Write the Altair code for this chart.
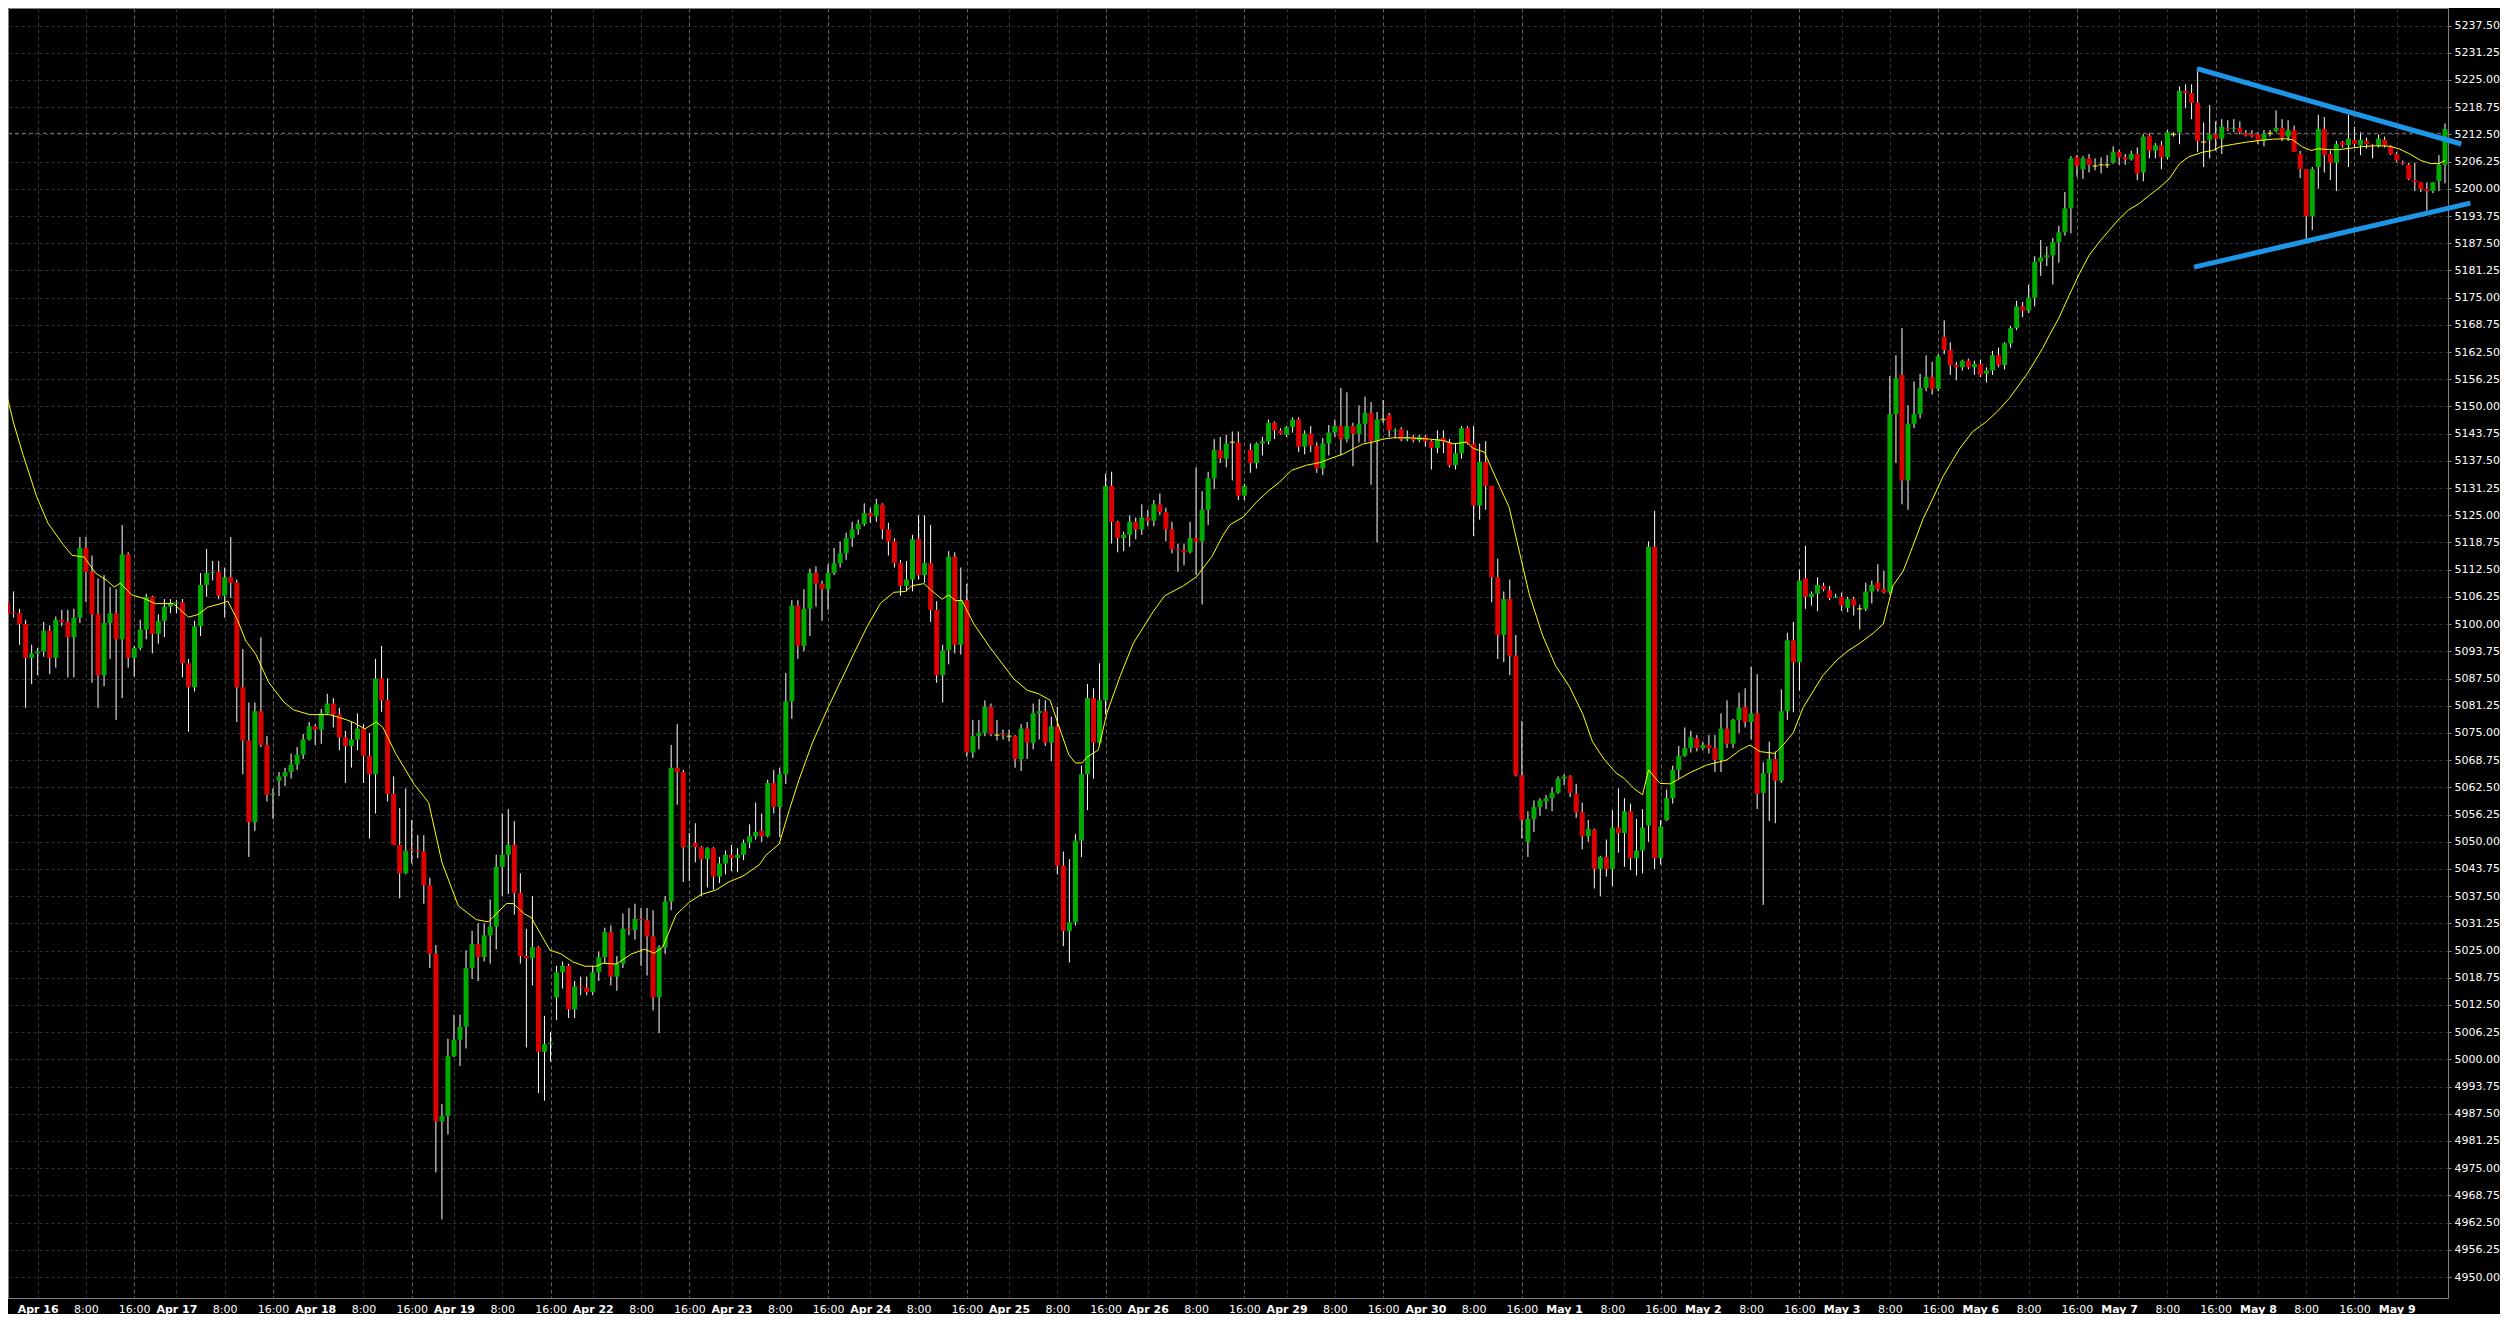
import altair as alt
import pandas as pd

# ---------------- data (hourly bars, index 0..405) -------------
opens = [
    5102, 5105, 5102.75, 5102.5, 5100, 5092.25, 5093.25, 5093.75, 5098.5, 5092.25,
    5101, 5100.5, 5097, 5101.5, 5117.5, 5112, 5102.25, 5088.25, 5100.25, 5102.5,
    5096.5, 5116, 5092.25, 5094.5, 5098.75, 5106.25, 5097.75, 5100.75, 5104, 5104.75,
    5105, 5091, 5085.5, 5099.5, 5109, 5111.75, 5112, 5106.5, 5110.75, 5109.5,
    5085.5, 5073.25, 5054.5, 5080, 5072.25, 5060.75, 5064, 5065, 5066, 5067.75,
    5070, 5073.5, 5076.5, 5075.75, 5079.5, 5081.75, 5079.25, 5074, 5072, 5073.5,
    5076, 5069.75, 5065.5, 5087.5, 5082.5, 5061, 5049.25, 5042.75, 5048.25, 5048,
    5047.75, 5040, 5024.25, 4985.75, 4987, 5000.75, 5004.5, 5007.5, 5021, 5026.5,
    5023.5, 5028.5, 5030.5, 5044.25, 5047, 5049.25, 5038.25, 5023.75, 5023.25, 5025.75,
    5001.75, 5003.5, 5014.25, 5020, 5021.5, 5011.5, 5016.75, 5016.5, 5015.5, 5020,
    5023.5, 5029.25, 5019, 5022, 5030, 5029.75, 5032.25, 5032, 5028.25, 5014.25,
    5025.75, 5036.25, 5067, 5066, 5048.75, 5049.75, 5048.75, 5046, 5048.5, 5042,
    5045, 5047, 5046.25, 5047, 5049.75, 5051.25, 5052.5, 5051.25, 5063.5, 5058,
    5065.5, 5082.25, 5104.25, 5095, 5103.5, 5111.75, 5109.25, 5108, 5111.75, 5114,
    5116.25, 5119.75, 5121.75, 5123, 5125.5, 5124.75, 5127.5, 5121.75, 5119, 5114,
    5108.75, 5110.25, 5119.5, 5111.25, 5114, 5103.25, 5088.25, 5094, 5115.5, 5095.25,
    5105.5, 5070.5, 5074.25, 5075, 5081, 5074.5, 5074.75, 5074.25, 5074.25, 5069,
    5076, 5072.75, 5079.5, 5080, 5072.75, 5076.5, 5044.5, 5029.5, 5031.5, 5050.25,
    5065.5, 5083, 5072.75, 5082.5, 5131.75, 5123.5, 5119.75, 5120.5, 5123.5, 5121.75,
    5124.5, 5123.75, 5127.5, 5125.75, 5121.75, 5117.25, 5117, 5116.5, 5119.75, 5119,
    5126.25, 5133.5, 5140, 5138, 5141.75, 5141.75, 5129.5, 5140, 5137, 5141.5,
    5142, 5146.25, 5144.5, 5143.5, 5145.25, 5147, 5140.75, 5143.75, 5141, 5135.75,
    5141.5, 5144, 5145.5, 5142.5, 5145.5, 5143.75, 5146, 5148.5, 5142, 5147,
    5148, 5144.25, 5144.75, 5142.5, 5143, 5142.25, 5143, 5142, 5140.5, 5142.75,
    5141.75, 5136.5, 5139.25, 5145, 5141.5, 5127.25, 5137.25, 5131.75, 5110.75, 5097.5,
    5105.75, 5092.75, 5065.25, 5050, 5055.25, 5058, 5059.25, 5060, 5061.25, 5064.5,
    5065, 5061, 5056.75, 5051.25, 5052.75, 5043.75, 5046.5, 5043.75, 5053.25, 5052,
    5057, 5046.25, 5048, 5053.75, 5117.75, 5046.25, 5055, 5060, 5066.5, 5069.75,
    5071.5, 5073.75, 5071.5, 5072.25, 5071.5, 5068.75, 5076, 5072.5, 5078, 5081,
    5077.5, 5079.5, 5061.25, 5065.75, 5069, 5064, 5080, 5096.25, 5091.25, 5110.5,
    5106.25, 5107, 5108.75, 5107.75, 5106, 5106.25, 5103.75, 5105.75, 5103.5, 5103.5,
    5107.5, 5109.5, 5108, 5107.25, 5148.25, 5157.25, 5133, 5146, 5148.25, 5154.25,
    5156.75, 5154, 5166, 5163, 5159.5, 5159, 5160.5, 5159, 5159.75, 5157.5,
    5158.25, 5161.75, 5159.5, 5164.5, 5168, 5173, 5172, 5175, 5183.25, 5184.25,
    5184.75, 5187.75, 5190, 5195.5, 5207.25, 5204.5, 5207, 5205.25, 5205.5, 5205.5,
    5206, 5208.5, 5207.25, 5206.75, 5208, 5203.75, 5212.25, 5208.75, 5210, 5207.25,
    5212.5, 5213, 5222.5, 5222, 5219.75, 5210.75, 5211.25, 5212.5, 5211.5, 5214,
    5213.75, 5214, 5212.75, 5212.5, 5212.5, 5211, 5212.75, 5213.25, 5214, 5212,
    5213.5, 5208, 5204.5, 5193.75, 5205, 5213.75, 5208, 5206, 5210.75, 5210,
    5211.25, 5210, 5211, 5210, 5210, 5211.25, 5209.75, 5208, 5206, 5205.5,
    5202, 5201.5, 5200, 5199.5, 5201.75, 5205.5,
]
highs = [
    5106.25, 5105.5, 5107.5, 5103.5, 5101, 5095.25, 5094.5, 5100.5, 5099.75, 5101.75,
    5103.25, 5103.25, 5103.5, 5120, 5120, 5115.75, 5110.5, 5111.25, 5108.5, 5108,
    5122.75, 5116.5, 5095, 5101, 5107, 5106.5, 5102.25, 5105.75, 5105.75, 5105.5,
    5105.75, 5092, 5100.75, 5111.75, 5117.25, 5114.5, 5114.5, 5113, 5120, 5110.25,
    5094.25, 5082, 5082, 5097, 5074.25, 5062.25, 5066, 5067, 5070.25, 5071.75,
    5074.75, 5077.5, 5077, 5080.5, 5084, 5083, 5080.75, 5075.5, 5077.5, 5079.5,
    5077, 5075, 5092, 5095, 5087.5, 5065, 5057.75, 5062.25, 5055, 5051.5,
    5051.5, 5041.75, 5026.25, 4989.75, 5004.75, 5010.25, 5010.25, 5025, 5029.5, 5031.25,
    5031.25, 5036.75, 5047, 5056.5, 5057.5, 5054.75, 5042.75, 5030, 5037.5, 5026,
    5010, 5006.25, 5021.5, 5022.5, 5022, 5018, 5019, 5019, 5021.5, 5024.75,
    5030.25, 5030.75, 5023.75, 5033.5, 5034.75, 5035.75, 5034.75, 5034.75, 5034.25, 5026.25,
    5037.5, 5072.25, 5077, 5066.5, 5052, 5054.25, 5049, 5048.75, 5048.75, 5046.5,
    5048, 5049.25, 5048.5, 5050.5, 5054, 5059, 5056.5, 5064.25, 5066.5, 5067,
    5088.75, 5105.5, 5105.5, 5108, 5112.75, 5113.25, 5110, 5113.75, 5117.5, 5119,
    5121, 5123.5, 5124, 5127.75, 5126.75, 5128.75, 5127.75, 5123.25, 5119.75, 5114.75,
    5114.5, 5120.5, 5125, 5125, 5122.75, 5105.25, 5095.25, 5116.75, 5116.5, 5113,
    5109.25, 5078, 5078, 5082.5, 5081.75, 5078, 5075.75, 5075.75, 5074.5, 5077,
    5077.5, 5081.75, 5082.75, 5082.5, 5078.75, 5081, 5047.75, 5046, 5051.75, 5067.5,
    5086.25, 5085.25, 5091, 5134.5, 5135, 5123.75, 5121.25, 5125, 5124.5, 5127.5,
    5126.25, 5128.5, 5130, 5126.75, 5123.5, 5118.5, 5118.5, 5123.5, 5136, 5130.5,
    5135, 5142.5, 5143, 5143.5, 5144.25, 5144.25, 5132.25, 5141.5, 5141.75, 5143,
    5147, 5146.5, 5145, 5145.5, 5147.5, 5147.5, 5144.5, 5145.5, 5141.75, 5142.75,
    5145.75, 5147, 5154.25, 5153.25, 5146.25, 5150.25, 5152.25, 5151, 5148.75, 5151.5,
    5148.5, 5145, 5145.25, 5144.5, 5143.5, 5143.5, 5143.5, 5142.25, 5144.5, 5144.5,
    5142.5, 5141.5, 5145.5, 5145.5, 5145.5, 5141.5, 5142, 5131.75, 5115, 5107.5,
    5110.25, 5097.5, 5077.75, 5057, 5059.5, 5060, 5060.75, 5062.5, 5065, 5065.5,
    5065.25, 5063.25, 5059, 5055, 5053, 5046.75, 5050.5, 5057.25, 5062.25, 5060,
    5058.75, 5055.25, 5057.5, 5119, 5126, 5055, 5062, 5067.5, 5072, 5076.25,
    5075.5, 5074.5, 5073, 5074.5, 5074.5, 5079.5, 5082.5, 5078.25, 5084.25, 5085.25,
    5090.25, 5088.5, 5068.25, 5073, 5070.75, 5085, 5098, 5100.5, 5112.5, 5118,
    5107.5, 5110.75, 5109.5, 5108.75, 5107, 5107.25, 5106.25, 5106.25, 5104.5, 5109.5,
    5110, 5113.75, 5112.25, 5157, 5161.75, 5168, 5150.25, 5155.75, 5157.5, 5161.75,
    5160.25, 5162, 5169.75, 5164.75, 5160.25, 5160.75, 5161, 5160.5, 5160.75, 5159,
    5162.75, 5163.5, 5164.75, 5168.5, 5174.25, 5174, 5178, 5184.5, 5188.25, 5186.75,
    5188.75, 5191.5, 5199.25, 5207.5, 5207.75, 5207.5, 5208, 5207, 5207.25, 5207.75,
    5209.75, 5209, 5208, 5208.75, 5209.5, 5212.5, 5212.75, 5210.5, 5211, 5213.5,
    5213, 5223.5, 5224, 5224, 5227, 5215.25, 5219.25, 5215.5, 5216, 5215.75,
    5216, 5215.5, 5213.5, 5213.5, 5213, 5213.5, 5213.5, 5218, 5216, 5215.75,
    5214.5, 5208.75, 5204.5, 5205, 5217, 5216.5, 5208.75, 5211, 5211, 5217,
    5214.25, 5213, 5211.75, 5210.25, 5212.5, 5212, 5210, 5208.5, 5206.5, 5206,
    5206, 5201.5, 5201.5, 5201.5, 5207.75, 5215,
]
lows = [
    5101.75, 5094, 5101.5, 5095.25, 5080.75, 5086.25, 5088.25, 5092.5, 5088.5, 5090,
    5099.5, 5087.75, 5087.75, 5100.25, 5105, 5086.5, 5080.75, 5085.75, 5092, 5078,
    5083, 5090, 5088, 5094, 5096.5, 5093.25, 5095.5, 5097, 5102.5, 5102.5,
    5087.75, 5075.25, 5084.5, 5097.25, 5106.25, 5110, 5105.75, 5101.5, 5106, 5077.5,
    5065.5, 5046.5, 5052.5, 5071.75, 5059.25, 5055.25, 5060.5, 5062.75, 5064.5, 5066.5,
    5069, 5073.25, 5072.25, 5072.5, 5079.25, 5076.25, 5071, 5063.5, 5067, 5071,
    5063.5, 5050.75, 5056.5, 5079.75, 5059.25, 5049.25, 5037, 5042.5, 5045, 5046.25,
    5035.75, 5021, 4974, 4963.25, 4982.75, 5000.5, 4998.5, 5002.5, 5018.5, 5018,
    5022.5, 5022, 5025.25, 5037.5, 5038, 5033.25, 5022, 5002.75, 5017, 4992.25,
    4990.5, 4999.5, 5009, 5016.25, 5009.5, 5009.5, 5014.75, 5014.75, 5014.75, 5018,
    5022, 5017, 5015.75, 5021, 5028.5, 5027.5, 5021.5, 5019.25, 5011.25, 5006,
    5024.25, 5034.25, 5058.5, 5040.75, 5041, 5045.25, 5037.5, 5039.5, 5039, 5040.5,
    5042.5, 5043.25, 5043, 5045.75, 5048.5, 5050.5, 5050, 5051, 5056.5, 5051,
    5063.25, 5078.25, 5092, 5093.75, 5097.25, 5104, 5100.75, 5103.25, 5111.25, 5113,
    5114.75, 5117.75, 5120.5, 5122.5, 5123.25, 5123.5, 5119.5, 5115.75, 5113, 5106.5,
    5107.5, 5107.5, 5110.25, 5109.5, 5100.5, 5086.5, 5082, 5090.75, 5093.25, 5093,
    5069.5, 5069.25, 5071.25, 5074.25, 5074.25, 5073.25, 5073.5, 5073, 5067, 5066.25,
    5069, 5071.25, 5073.5, 5072, 5068.5, 5042.5, 5026, 5022.25, 5030.75, 5046.5,
    5057.25, 5064.5, 5072, 5079.25, 5118.5, 5116.5, 5116.75, 5117.75, 5119.5, 5120.5,
    5122.5, 5122.5, 5125, 5119, 5116.25, 5112, 5113.5, 5116.25, 5111.25, 5104.5,
    5122.75, 5131, 5137, 5136, 5133, 5128.5, 5128.5, 5134.75, 5135.75, 5138.75,
    5141.25, 5142.5, 5143.5, 5143, 5144, 5139.5, 5139, 5139.5, 5134.75, 5134.25,
    5138.75, 5143, 5138.75, 5141.75, 5136.25, 5141.75, 5141.75, 5132, 5118.75, 5146.25,
    5143, 5142.75, 5142, 5142, 5141.75, 5141.75, 5140.75, 5135.5, 5139.25, 5139.25,
    5136, 5135.5, 5138, 5141.25, 5120.25, 5124, 5126.25, 5105, 5092, 5091.25,
    5088.25, 5065, 5050.75, 5046.5, 5052.25, 5056, 5057.5, 5057, 5061, 5063,
    5060.25, 5055.5, 5048.25, 5050, 5039.25, 5037.5, 5042, 5039.75, 5047.5, 5044.25,
    5043.5, 5042.25, 5042.75, 5050, 5043.75, 5044.75, 5054.75, 5058.75, 5064.5, 5069.5,
    5070.5, 5070.75, 5071, 5070.25, 5066, 5066, 5071.5, 5071.5, 5075, 5076.25,
    5073.5, 5057.5, 5035.5, 5054.75, 5054.25, 5063.5, 5078, 5079.75, 5084.75, 5103.5,
    5104.25, 5103, 5107.5, 5105.5, 5106, 5103, 5102.75, 5102, 5098.75, 5103,
    5104.75, 5107.5, 5107, 5106.75, 5137, 5127.5, 5126.25, 5145, 5147.25, 5153.5,
    5152.75, 5153.5, 5162, 5157.25, 5156, 5158.25, 5158.5, 5157.25, 5156.75, 5155.5,
    5157.25, 5159, 5158.5, 5163.5, 5167.5, 5170.5, 5171.5, 5173, 5180, 5182.25,
    5178, 5183, 5189.25, 5189.75, 5202.75, 5202.25, 5203.75, 5204.25, 5203.5, 5204.75,
    5205.75, 5205.5, 5205.5, 5206.5, 5202, 5201.75, 5207, 5207, 5204.5, 5206.75,
    5212, 5210.25, 5218.5, 5216, 5208.5, 5205, 5207, 5208.75, 5208, 5213.25,
    5213, 5212.5, 5212, 5211.75, 5210.25, 5209.75, 5212, 5213, 5211, 5211,
    5208.5, 5202.5, 5188.25, 5190.5, 5200, 5203.75, 5202, 5199.5, 5209.5, 5205,
    5209.5, 5207.75, 5209.25, 5207, 5209.5, 5209.5, 5207.75, 5206, 5205.5, 5202,
    5199.5, 5199.25, 5195, 5199, 5199.5, 5201.25,
]
closes = [
    5105, 5102.5, 5102.5, 5100, 5092.25, 5093.25, 5093.75, 5098.5, 5092.25, 5101,
    5100.5, 5097, 5101.5, 5117.5, 5112, 5102.25, 5088.25, 5100.25, 5102.5, 5096.5,
    5116, 5092.25, 5094.5, 5098.75, 5106.25, 5097.75, 5100.75, 5104, 5104.75, 5105,
    5091, 5085.5, 5099.5, 5109, 5111.75, 5112, 5106.5, 5110.75, 5109.5, 5085.5,
    5073.25, 5054.5, 5080, 5072.25, 5060.75, 5061, 5065, 5066, 5067.75, 5070,
    5073.5, 5076.5, 5075.75, 5079.5, 5081.75, 5079.25, 5074, 5072, 5073.5, 5076,
    5069.75, 5065.5, 5087.5, 5082.5, 5061, 5049.25, 5042.75, 5048, 5048, 5047.75,
    5040, 5024.25, 4985.75, 4987, 5000.75, 5004.5, 5007.5, 5021, 5026.5, 5023.5,
    5028.5, 5030.5, 5044.25, 5047, 5049.25, 5038.25, 5023.75, 5023.25, 5025.75, 5001.75,
    5003.5, 5003.75, 5020, 5021.5, 5011.5, 5016.75, 5016.5, 5015.5, 5020, 5023.5,
    5029.25, 5019, 5022, 5030, 5029.75, 5032.25, 5032, 5028.25, 5014.25, 5025.75,
    5036.25, 5067, 5066, 5048.75, 5049, 5048.75, 5046, 5048.5, 5042, 5045,
    5047, 5046.25, 5047, 5049.75, 5051.25, 5052.25, 5051.25, 5063.5, 5058, 5065.5,
    5082.25, 5104.25, 5095, 5103.5, 5111.75, 5109.25, 5108, 5111.75, 5114, 5116.25,
    5119.75, 5121.75, 5123, 5125.5, 5124.75, 5127.5, 5121.75, 5119, 5114, 5108.75,
    5110.25, 5119.5, 5111.25, 5114, 5103.25, 5088.25, 5094, 5115.5, 5095.25, 5105.5,
    5070.5, 5074.25, 5075, 5081, 5074.75, 5074.5, 5074.5, 5074.25, 5069, 5076,
    5072.75, 5079.5, 5080, 5072.75, 5076.5, 5044.5, 5029.5, 5031.5, 5050.25, 5065.5,
    5083, 5072.75, 5082.5, 5131.75, 5123.5, 5119.75, 5120.5, 5123.5, 5121.75, 5124.5,
    5123.75, 5127.5, 5125.75, 5121.75, 5117.25, 5117, 5116.5, 5119.75, 5119, 5126.25,
    5133.5, 5140, 5138, 5141.5, 5141.75, 5129.5, 5131.75, 5137, 5141.5, 5142,
    5146.25, 5144.5, 5143.75, 5145.25, 5147, 5140.75, 5143.75, 5141, 5135.75, 5141.5,
    5144, 5145.5, 5142.5, 5145.5, 5143.75, 5146, 5148.5, 5142, 5147, 5147,
    5144.5, 5144.5, 5142.5, 5143, 5142.25, 5143, 5142, 5140.5, 5142.5, 5141.75,
    5136.5, 5139.25, 5145, 5141.5, 5127.25, 5137.25, 5131.75, 5110.75, 5097.5, 5105.75,
    5092.75, 5065.25, 5055, 5055.25, 5058, 5059.5, 5060, 5061.25, 5064.5, 5065,
    5061.25, 5056.75, 5051.25, 5053, 5043.75, 5046.5, 5043.75, 5053.25, 5052, 5057,
    5046.25, 5048, 5053.25, 5117.75, 5046.25, 5053.5, 5060, 5066.5, 5069.75, 5071.5,
    5074, 5071.5, 5072.25, 5071.5, 5068.75, 5076, 5072.5, 5078, 5080.75, 5077.5,
    5079.5, 5061, 5065.75, 5069, 5064, 5080, 5096.25, 5091.25, 5110, 5106.25,
    5107, 5109, 5108, 5106, 5106.25, 5104.25, 5105.75, 5104.25, 5103.5, 5107.5,
    5109, 5108, 5107.25, 5148.25, 5156.5, 5133, 5146, 5148.25, 5154.25, 5156.75,
    5154, 5161.5, 5163, 5159.5, 5159, 5160.5, 5159, 5159.75, 5157.25, 5158.25,
    5161.75, 5159.5, 5164.5, 5168, 5173, 5172, 5175, 5183.25, 5184.25, 5184.75,
    5187.75, 5190, 5195.5, 5207, 5205.25, 5207, 5205.5, 5205.25, 5205.5, 5205.5,
    5208.5, 5207.25, 5206.75, 5208, 5203.5, 5212, 5208.75, 5210, 5207.25, 5213,
    5212.5, 5222.5, 5222, 5219.75, 5211, 5210.75, 5212.5, 5211.5, 5214.25, 5213.75,
    5214, 5213, 5212.25, 5212, 5211, 5212.5, 5212.75, 5214, 5211.75, 5213.5,
    5208.5, 5204.5, 5193.75, 5204.5, 5213.75, 5207.75, 5206, 5210.25, 5210, 5211.5,
    5210.25, 5211.25, 5210.25, 5209.75, 5211.5, 5210, 5208, 5206.5, 5205.75, 5202.25,
    5201.5, 5200, 5199.5, 5201.5, 5205.5, 5213.75,
]

# yellow moving-average line, read at bar positions
ma_idx = [
    0, 2, 3.6, 5.8, 7.7, 10.2, 11.7, 13.7, 15.6, 17.5, 18.7, 19.7, 21.6, 23.8, 25.5, 28.5,
    31, 32.6, 34.2, 36.4, 37.5, 39.1, 40.5, 42.1, 44.3, 46.8, 48.4, 51.1, 54.4, 57.2, 58.5,
    60.2, 62.1, 63.2, 65.4, 68.4, 70.8, 73, 75.7, 78.7, 80.7, 83.7, 84.8, 86.7, 87.8, 90.9,
    92.8, 94.7, 96.7, 98.6, 99.7, 101.9, 104.4, 106.6, 108.2, 109.6, 111.8, 114, 116, 118.4,
    120.6, 122.9, 125.6, 126.7, 128.9, 130.6, 132.2, 134.4, 136.9, 141.3, 143.5, 145.7,
    147.9, 149.8, 150.9, 152.9, 154, 155.9, 157, 158.1, 159.2, 161.1, 163.9, 167.8, 170,
    171.9, 173.8, 174.9, 176.9, 178, 179.1, 179.9, 181.8, 183.2, 185.4, 187.6, 190.9, 192.8,
    195.9, 198.1, 200.6, 202.5, 203.6, 205.8, 208, 210, 211.9, 213.8, 216.3, 218.5, 220.2,
    222.4, 223.5, 225.7, 227.3, 229, 230.6, 233.4, 236.7, 238.9, 240.6, 242.8, 243.9, 245.8,
    247.7, 249.9, 251.6, 253.2, 255.4, 257.6, 259.9, 262.1, 263.7, 265.6, 267.6, 268.9,
    270.6, 272, 273, 274.9, 276.6, 279.9, 282.6, 286, 288.2, 289.8, 291.5, 293.9, 295.3,
    297, 298.6, 301.9, 304.1, 306.1, 308, 310.2, 311.9, 313.5, 315.2, 316.8, 318.5, 320.1,
    321.8, 324.5, 326.7, 329, 330.9, 332.8, 335.8, 338.3, 339.4, 341, 342.7, 344.4, 346,
    347.7, 349.3, 351, 352.6, 354.3, 356, 357.6, 359.3, 361, 362.6, 364.8, 366.5, 367.8,
    369.8, 372, 374.2, 376.4, 378.6, 379.7, 381.4, 382.8, 383.9, 385.8, 387.4, 389.7,
    391.3, 393.5, 395.7, 397.4, 399.3, 401, 402.6, 404, 405,
]
ma_val = [
    5157.7, 5146.2, 5138.8, 5129.4, 5123.2, 5118.3, 5115.8, 5115.4, 5111.7, 5110, 5108.5,
    5109.4, 5106.7, 5105.8, 5104.7, 5104.7, 5101.6, 5102.2, 5103.9, 5104.7, 5105.3, 5101,
    5096.1, 5093.2, 5086.6, 5082.1, 5080.3, 5079.2, 5079.2, 5078, 5077.3, 5075.9, 5077.5,
    5076.3, 5070.1, 5063.2, 5059, 5045.3, 5035.3, 5032.1, 5031.6, 5035.8, 5035.8, 5033.4,
    5032.6, 5025.1, 5024.2, 5022.4, 5021.4, 5021.4, 5022.1, 5021.9, 5024.2, 5025.3, 5024.4,
    5025.8, 5033.2, 5036.1, 5037.9, 5038.9, 5040.8, 5042.1, 5044.7, 5046.9, 5049.5, 5057.4,
    5064.3, 5072.7, 5080.5, 5093.3, 5099.5, 5104.8, 5107.3, 5107.5, 5108.8, 5109.3, 5107.9,
    5105.7, 5106.7, 5105.4, 5105.4, 5100.2, 5094.5, 5087.4, 5084.8, 5084, 5082.5, 5078,
    5070, 5068.1, 5068.1, 5069.4, 5071.1, 5079.5, 5088, 5095.6, 5102.9, 5106.5, 5108.8,
    5110.9, 5115.5, 5120.5, 5122.8, 5124.6, 5128, 5130.6, 5132.7, 5135.3, 5136.5, 5137.1,
    5138, 5139.1, 5139.9, 5141.4, 5141.8, 5142.5, 5142.8, 5142.8, 5142.5, 5142.2, 5141.4,
    5141.8, 5140.4, 5139.5, 5133.5, 5126.8, 5116.5, 5107, 5097.5, 5090.4, 5085.6, 5079.3,
    5073, 5069, 5065.8, 5064.6, 5062.2, 5060.8, 5066.5, 5063.4, 5063.3, 5065.9, 5067.6,
    5068.8, 5071.1, 5072.2, 5070.7, 5070.3, 5072.2, 5075.1, 5080.8, 5088.2, 5091.6, 5093.9,
    5095.6, 5097.9, 5100, 5108.8, 5112.2, 5117.9, 5124.2, 5128.8, 5133.9, 5140.2, 5144.2,
    5146.5, 5149, 5151.9, 5157.6, 5163.3, 5166.3, 5170.3, 5175.5, 5180.5, 5184.7, 5187.8,
    5190.4, 5193.1, 5195.2, 5196.6, 5198.5, 5200.2, 5202.3, 5205.8, 5207.4, 5208.4, 5208.8,
    5209.7, 5210.2, 5210.7, 5211.1, 5211.4, 5211.5, 5211.3, 5209.6, 5208.8, 5209.2, 5209,
    5209, 5209.4, 5209.7, 5209.9, 5209.8, 5209.2, 5207.9, 5206.5, 5205.8, 5205.8, 5206.5,
]

# two hand-drawn blue trend lines (bar position, price)
trend_id = ["upper", "upper", "lower", "lower"]
trend_x = [363.9, 407.7, 363.4, 409.2]
trend_y = [5227.6, 5210.3, 5182.0, 5196.7]

# current bid line
bid_price = [5212.75]

# axis ticks / labels
day_tick_idx = [6, 29, 52, 75, 98, 121, 144, 167, 190, 213, 236, 259, 282, 305, 328, 351, 374, 397]
day_tick_text = ["Apr 16", "Apr 17", "Apr 18", "Apr 19", "Apr 22", "Apr 23", "Apr 24",
                 "Apr 25", "Apr 26", "Apr 29", "Apr 30", "May 1", "May 2", "May 3",
                 "May 6", "May 7", "May 8", "May 9"]
h8_tick_idx = [14, 37, 60, 83, 106, 129, 152, 175, 198, 221, 244, 267, 290, 313, 336, 359, 382]
h16_tick_idx = [22, 45, 68, 91, 114, 137, 160, 183, 206, 229, 252, 275, 298, 321, 344, 367, 390]
y_tick_vals = [
    4950.00, 4956.25, 4962.50, 4968.75, 4975.00, 4981.25, 4987.50, 4993.75, 5000.00,
    5006.25, 5012.50, 5018.75, 5025.00, 5031.25, 5037.50, 5043.75, 5050.00, 5056.25,
    5062.50, 5068.75, 5075.00, 5081.25, 5087.50, 5093.75, 5100.00, 5106.25, 5112.50,
    5118.75, 5125.00, 5131.25, 5137.50, 5143.75, 5150.00, 5156.25, 5162.50, 5168.75,
    5175.00, 5181.25, 5187.50, 5193.75, 5200.00, 5206.25, 5212.50, 5218.75, 5225.00,
    5231.25, 5237.50,
]

# ---------------- build ----------------
n = len(closes)
assert len(opens) == n and len(highs) == n and len(lows) == n, (len(opens), len(highs), len(lows), n)

df = pd.DataFrame({"i": list(range(n)), "o": opens, "h": highs, "l": lows, "c": closes})
df["dir"] = ["up" if c > o else ("down" if c < o else "flat") for o, c in zip(opens, closes)]
ma_df = pd.DataFrame({"x": ma_idx, "v": ma_val})
tr_df = pd.DataFrame({"id": trend_id, "x": trend_x, "y": trend_y})
bid_df = pd.DataFrame({"p": bid_price, "i": [200]})

all_idx = day_tick_idx + h8_tick_idx + h16_tick_idx
all_txt = day_tick_text + ["8:00"] * len(h8_tick_idx) + ["16:00"] * len(h16_tick_idx)
arr_idx = "[" + ",".join(str(v) for v in all_idx) + "]"
arr_txt = "[" + ",".join("'" + t + "'" for t in all_txt) + "]"
arr_day = "[" + ",".join(str(v) for v in day_tick_idx) + "]"
arr_sep = "[" + ",".join(str(v) for v in h16_tick_idx) + "]"

xs = alt.Scale(domain=[1.08, 405.5], nice=False, zero=False)
ys = alt.Scale(domain=[4945.18, 5241.54], nice=False, zero=False)

FONT = "DejaVu Sans"
GRID = "#333333"
x_axis = alt.Axis(
    values=sorted(all_idx),
    labelExpr=arr_txt + "[indexof(" + arr_idx + ", datum.value)]",
    domain=False, ticks=False, tickSize=0, labelPadding=11, labelBaseline="middle",
    labelColor="#FFFFFF", labelFont=FONT, labelFontSize=11,
    labelFontWeight={"condition": {"test": "indexof(" + arr_day + ", datum.value) >= 0", "value": "bold"},
                     "value": "normal"},
    labelOverlap=False, labelFlush=False, labelBound=False,
    grid=True, gridDash=[4, 3], gridWidth=1,
    gridColor={"condition": {"test": "indexof(" + arr_sep + ", datum.value) >= 0", "value": "#626262"},
               "value": GRID},
)
y_axis = alt.Axis(
    orient="right", values=y_tick_vals, format=".2f",
    domain=False, ticks=True, tickSize=3, tickColor="#8a8a8a", labelPadding=3,
    labelColor="#FFFFFF", labelFont=FONT, labelFontSize=11,
    labelOverlap=False, labelFlush=False, labelBound=False,
    grid=True, gridDash=[3, 3], gridColor=GRID, gridWidth=1,
)


def X(field):
    return alt.X(field, scale=xs, axis=x_axis, title=None)


def Y(field):
    return alt.Y(field, scale=ys, axis=y_axis, title=None)


bid = alt.Chart(bid_df).mark_rule(color="#7a7a7a", strokeDash=[4, 3], strokeWidth=1, clip=True).encode(
    y=Y("p:Q")
)
wicks = alt.Chart(df).mark_rule(color="#FFFFFF", strokeWidth=1, clip=True).encode(
    x=X("i:Q"), y=Y("l:Q"), y2="h:Q",
)
bodies = alt.Chart(df).transform_filter("datum.dir != 'flat'").mark_rule(
    strokeWidth=5, strokeCap="butt", clip=True
).encode(
    x=X("i:Q"), y=Y("o:Q"), y2="c:Q",
    color=alt.Color("dir:N", scale=alt.Scale(domain=["up", "down"], range=["#00AA00", "#DD0000"]), legend=None),
)
dojis = alt.Chart(df).transform_filter("datum.dir == 'flat'").mark_tick(
    orient="horizontal", size=5, thickness=1.5, color="#FFFF00", clip=True
).encode(x=X("i:Q"), y=Y("c:Q"))
ma = alt.Chart(ma_df).mark_line(color="#FFFF00", strokeWidth=1, clip=True).encode(
    x=X("x:Q"), y=Y("v:Q"),
)
trend = alt.Chart(tr_df).mark_line(color="#1E96E8", strokeWidth=5, strokeCap="butt", clip=False).encode(
    x=X("x:Q"), y=Y("y:Q"), detail="id:N",
)

chart = alt.layer(wicks, bid, bodies, dojis, ma, trend).properties(
    width=2440, height=1290,
    padding={"left": 0, "top": 0, "right": 0, "bottom": 0},
    background="#000000",
).configure_view(stroke="#808080", strokeWidth=1, fill="#000000").configure_axis(
    labelOverlap=False
)

chart.save("out.html", embed_options={"renderer": "svg", "actions": False})
